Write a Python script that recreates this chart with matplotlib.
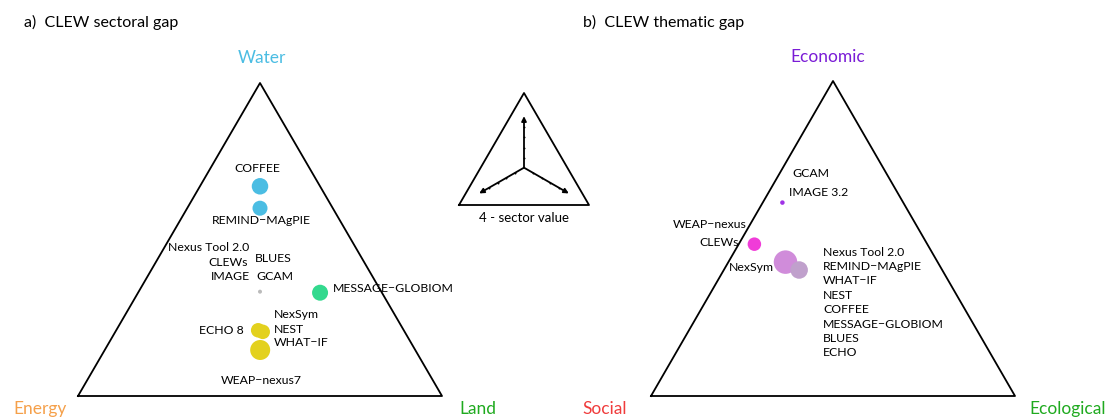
import numpy as np
import matplotlib
matplotlib.use("Agg")
import matplotlib.pyplot as plt

plt.rcParams["font.family"] = ["Lato", "DejaVu Sans"]

W, H = 1113, 419

# a) sectoral gap: (water, energy, land) shares
sect_water = [0.67, 0.60, 1/3, 0.33, 0.21, 0.205, 0.147]
sect_energy = [0.165, 0.20, 1/3, 0.17, 0.40, 0.39, 0.427]
sect_land = [0.165, 0.20, 1/3, 0.50, 0.39, 0.405, 0.427]
sect_size = [16.5, 15, 4, 16, 14.5, 14.5, 20]
sect_color = ["#4BBDE3", "#4BBDE3", "#BBBBBB", "#33D98E", "#E3D11E", "#E3D11E", "#E3D11E"]

# b) thematic gap: (economic, social, ecological) shares
them_econ = [0.614, 0.482, 0.425, 0.40]
them_social = [0.332, 0.475, 0.418, 0.393]
them_eco = [0.054, 0.043, 0.157, 0.207]
them_size = [4.5, 13.5, 23.5, 17.5]
them_color = ["#A032E6", "#F03CD8", "#D08CDA", "#C0A0CC"]


def tern(top, right):
    top = np.asarray(top)
    right = np.asarray(right)
    return right + top / 2, top


def tri_axes(fig, left, bottom, right, top_y):
    ax = fig.add_axes([left / W, 1 - bottom / H, (right - left) / W, (bottom - top_y) / H])
    ax.set_xlim(0, 1)
    ax.set_ylim(0, 1)
    ax.axis("off")
    ax.plot([0, 1, 0.5, 0], [0, 0, 1, 0], color="black", lw=1.3, clip_on=False)
    return ax


def px(ax_fig, x, y, s, **kw):
    kw.setdefault("fontsize", 8.8)
    kw.setdefault("va", "center")
    ax_fig.text(x / W, 1 - y / H, s, transform=fig.transFigure, **kw)


fig = plt.figure(figsize=(W / 100, H / 100), dpi=100)

# panel a
axa = tri_axes(fig, 78, 396, 442, 83)
x, y = tern(sect_water, sect_land)
axa.scatter(x, y, s=(np.array(sect_size) * 0.72) ** 2, c=sect_color, lw=0, clip_on=False, zorder=3)

# panel b
axb = tri_axes(fig, 651, 396, 1015, 81)
x, y = tern(them_econ, them_eco)
axb.scatter(x, y, s=(np.array(them_size) * 0.72) ** 2, c=them_color, lw=0, clip_on=False, zorder=3)

# legend triangle
axl = tri_axes(fig, 459, 205, 589, 93)
cx, cy = 0.5, 1 / 3
for vx, vy in [(0.5, 1.0), (0.0, 0.0), (1.0, 0.0)]:
    tx, ty = cx + 0.69 * (vx - cx), cy + 0.69 * (vy - cy)
    axl.annotate("", xy=(tx, ty), xytext=(cx, cy),
                 arrowprops=dict(arrowstyle="-|>", color="black", lw=1.3,
                                 mutation_scale=7, shrinkA=0, shrinkB=0))
    k = np.arange(1, 5) * 0.135
    axl.scatter(cx + k * (vx - cx), cy + k * (vy - cy), s=2, c="black", lw=0)

# titles and corner labels
px(fig, 24, 22, "a)  CLEW sectoral gap", fontsize=11.5)
px(fig, 583, 22, "b)  CLEW thematic gap", fontsize=11.5)
px(fig, 262, 58, "Water", fontsize=12.5, ha="center", color="#4BBDE3")
px(fig, 13, 409, "Energy", fontsize=12.5, color="#F5A04A")
px(fig, 459, 409, "Land", fontsize=12.5, color="#1FAA1F")
px(fig, 828, 57, "Economic", fontsize=12.5, ha="center", color="#7A1CD6")
px(fig, 582, 409, "Social", fontsize=12.5, color="#F03C3C")
px(fig, 1029, 409, "Ecological", fontsize=12.5, color="#1FAA1F")
px(fig, 524, 218, "4 - sector value", fontsize=9.5, ha="center")

# panel a labels
px(fig, 257, 168, "COFFEE", ha="center")
px(fig, 261, 220, "REMIND\u2212MAgPIE", ha="center")
px(fig, 249, 247, "Nexus Tool 2.0", ha="right")
px(fig, 248, 262, "CLEWs", ha="right")
px(fig, 250, 277, "IMAGE", ha="right")
px(fig, 255, 258, "BLUES")
px(fig, 256, 277, "GCAM")
px(fig, 333, 289, "MESSAGE\u2212GLOBIOM")
px(fig, 274, 314, "NexSym")
px(fig, 274, 329, "NEST")
px(fig, 274, 342, "WHAT\u2212IF")
px(fig, 244, 331, "ECHO 8", ha="right")
px(fig, 261, 380, "WEAP\u2212nexus7", ha="center")

# panel b labels
px(fig, 792, 173, "GCAM")
px(fig, 789, 192, "IMAGE 3.2")
px(fig, 747, 224, "WEAP\u2212nexus", ha="right")
px(fig, 739, 242, "CLEWs", ha="right")
px(fig, 774, 267, "NexSym", ha="right")
for i, name in enumerate(["Nexus Tool 2.0", "REMIND\u2212MAgPIE", "WHAT\u2212IF", "NEST", "COFFEE",
                          "MESSAGE\u2212GLOBIOM", "BLUES", "ECHO"]):
    px(fig, 823, 252 + i * 14.4, name)

fig.savefig("out.png", dpi=100)
